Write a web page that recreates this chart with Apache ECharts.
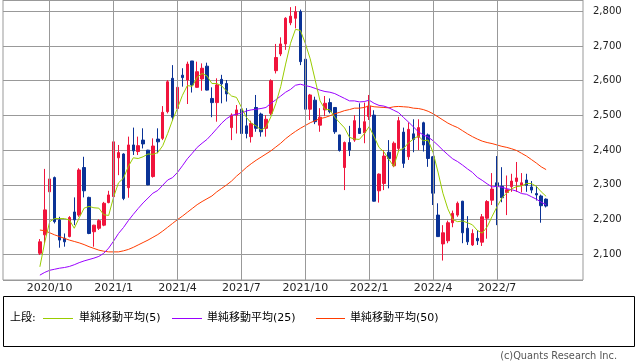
<!DOCTYPE html>
<html><head><meta charset="utf-8">
<script src="https://cdn.jsdelivr.net/npm/echarts/dist/echarts.min.js"></script>
<style>html,body{margin:0;padding:0;background:#fff}#c{width:638px;height:362px}</style>
</head><body><div id="c"></div>
<script>
// ---- data (weekly candles, first week starting 2020/09/21) ----
const firstWeek = '2020/09/21';
const padWeeks = 7;
const opens = [2103,2156,2280,2321,2199,2146,2151,2222,2213,2350,2264,2165,2175,2184,2249,2266,2378,2389,2292,2415,2396,2429,2400,2324,2432,2434,2511,2607,2520,2616,2602,2657,2581,2605,2642,2549,2537,2604,2592,2465,2501,2518,2470,2439,2523,2504,2463,2506,2629,2677,2706,2767,2780,2799,2662,2518,2544,2472,2516,2537,2523,2444,2350,2422,2429,2463,2450,2497,2501,2283,2304,2394,2355,2405,2452,2381,2447,2437,2479,2444,2381,2213,2130,2139,2191,2213,2253,2175,2127,2146,2135,2204,2256,2306,2296,2278,2295,2310,2299,2314,2294,2275,2268,2259];
const closes = [2136,2228,2317,2194,2141,2136,2206,2199,2343,2283,2160,2184,2197,2247,2271,2424,2393,2261,2415,2398,2413,2418,2300,2412,2424,2509,2597,2495,2581,2609,2648,2588,2626,2636,2573,2537,2588,2591,2562,2501,2516,2448,2448,2477,2463,2453,2489,2600,2667,2706,2780,2786,2799,2655,2518,2559,2482,2495,2535,2511,2453,2399,2422,2400,2485,2448,2482,2527,2253,2331,2383,2376,2420,2485,2362,2460,2431,2465,2415,2376,2276,2151,2162,2191,2218,2247,2162,2136,2160,2139,2208,2252,2288,2297,2263,2286,2311,2320,2306,2299,2285,2271,2240,2239];
const lows = [2098,2132,2271,2189,2119,2122,2149,2184,2208,2264,2158,2122,2170,2181,2247,2160,2328,2256,2263,2386,2386,2405,2299,2321,2391,2429,2506,2485,2495,2583,2533,2566,2580,2571,2572,2495,2482,2535,2540,2429,2448,2333,2434,2422,2453,2439,2439,2501,2621,2671,2689,2760,2751,2645,2511,2487,2475,2453,2498,2506,2447,2396,2285,2383,2424,2447,2420,2487,2252,2249,2285,2290,2351,2399,2349,2372,2394,2400,2396,2352,2242,2150,2082,2132,2178,2208,2132,2127,2124,2127,2124,2145,2242,2184,2250,2213,2280,2280,2278,2280,2276,2255,2191,2235];
const highs = [2144,2346,2326,2324,2208,2160,2210,2264,2348,2381,2266,2185,2201,2251,2283,2458,2415,2391,2439,2465,2439,2463,2401,2434,2463,2527,2602,2645,2727,2636,2655,2657,2655,2650,2652,2581,2607,2617,2602,2506,2530,2569,2521,2485,2559,2508,2501,2604,2706,2725,2783,2812,2815,2805,2662,2562,2554,2521,2556,2549,2524,2444,2425,2470,2501,2535,2537,2559,2515,2333,2400,2429,2425,2496,2465,2480,2489,2489,2482,2448,2383,2247,2184,2197,2226,2252,2254,2210,2172,2170,2216,2256,2334,2383,2351,2327,2332,2366,2334,2332,2311,2297,2272,2261];
const ma5 = [2064,2135,2194,2203,2203,2203,2199,2175,2205,2233,2238,2234,2233,2214,2212,2265,2306,2319,2353,2378,2376,2381,2389,2388,2393,2413,2448,2487,2521,2558,2586,2584,2610,2621,2614,2592,2592,2585,2570,2556,2552,2524,2495,2478,2470,2458,2466,2496,2534,2583,2648,2708,2748,2745,2708,2663,2603,2542,2518,2516,2495,2479,2464,2437,2432,2431,2447,2468,2439,2408,2395,2374,2353,2399,2405,2421,2432,2441,2427,2429,2393,2337,2276,2231,2200,2194,2196,2191,2185,2169,2161,2179,2209,2237,2262,2277,2289,2295,2297,2304,2304,2296,2280,2267];
const ma25 = [2040,2048,2054,2057,2060,2062,2065,2070,2076,2081,2085,2089,2094,2103,2118,2138,2160,2177,2197,2215,2232,2248,2262,2276,2284,2299,2314,2321,2336,2355,2375,2391,2408,2420,2431,2446,2462,2478,2491,2500,2504,2506,2513,2516,2518,2520,2523,2535,2545,2556,2567,2575,2587,2590,2586,2583,2578,2573,2569,2567,2563,2556,2549,2542,2542,2539,2540,2544,2535,2529,2527,2522,2515,2508,2494,2481,2467,2453,2444,2438,2427,2414,2400,2387,2375,2367,2357,2346,2336,2322,2313,2303,2294,2296,2293,2289,2286,2282,2275,2273,2266,2259,2250,2243];
const ma50 = [2170,2168,2162,2156,2151,2146,2141,2137,2133,2128,2122,2117,2112,2109,2107,2107,2107,2110,2114,2120,2127,2134,2141,2149,2157,2167,2178,2189,2200,2210,2221,2232,2243,2252,2260,2268,2280,2290,2300,2311,2325,2337,2350,2361,2371,2380,2389,2398,2409,2420,2433,2444,2454,2463,2471,2479,2485,2491,2494,2499,2505,2509,2514,2517,2521,2521,2523,2528,2525,2524,2523,2522,2525,2526,2525,2524,2521,2520,2517,2512,2505,2496,2487,2478,2471,2465,2456,2447,2439,2432,2426,2422,2419,2415,2411,2408,2404,2399,2391,2383,2373,2363,2352,2344];
const quarterWeeks = ['2020/10/05','2021/01/04','2021/04/05','2021/07/05','2021/10/04','2022/01/03','2022/04/04','2022/07/04'];
const quarterLabels = ['2020/10','2021/1','2021/4','2021/7','2021/10','2022/1','2022/4','2022/7'];
const yTickValues = [2100,2200,2300,2400,2500,2600,2700,2800];
const legendNames = ['単純移動平均(5)','単純移動平均(25)','単純移動平均(50)'];

// ---- category axis: one category per week, with empty weeks on both sides ----
function fmt(d){const m=d.getUTCMonth()+1, dd=d.getUTCDate();return d.getUTCFullYear()+'/'+(m<10?'0':'')+m+'/'+(dd<10?'0':'')+dd;}
const p = firstWeek.split('/').map(Number);
const base = Date.UTC(p[0], p[1]-1, p[2]);
const nCat = opens.length + 2*padWeeks;
const categories = [];
for (let k = 0; k < nCat; k++) categories.push(fmt(new Date(base + (k - padWeeks) * 7 * 86400000)));

const candleData = opens.map((o,i)=>[i+padWeeks, o, closes[i], lows[i], highs[i]]);
const lineData = arr => arr.map((v,i)=>[i+padWeeks, v]);

const RED='#f0143c', BLUE='#0a3296';
const C5='#99cc00', C25='#9a00ff', C50='#ff3c00';
const FONT='"DejaVu Sans","Noto Sans CJK JP",sans-serif';

const chart = echarts.init(document.getElementById('c'), null, {renderer:'canvas'});
const legendY = 318.5;
chart.setOption({
  animation:false,
  grid:{left:3,right:55,top:0,bottom:82,show:true,borderColor:'#999',borderWidth:1,backgroundColor:'transparent'},
  xAxis:{type:'category',data:categories,boundaryGap:true,
    axisLine:{show:false},axisTick:{show:false},splitLine:{show:false},
    axisLabel:{interval:(idx,val)=>quarterWeeks.indexOf(val)>=0,
      formatter:(val)=>{const j=quarterWeeks.indexOf(val);return j>=0?quarterLabels[j]:'';},
      fontSize:11,color:'#222',fontFamily:FONT,margin:3}},
  yAxis:{type:'value',position:'right',min:2026,max:2832.6,scale:true,splitNumber:8,
    axisLine:{show:false},axisTick:{show:false},
    splitLine:{show:true,lineStyle:{color:'#999',width:1}},
    axisLabel:{showMinLabel:false,showMaxLabel:false,margin:10,fontSize:10,color:'#222',fontFamily:FONT,
      formatter:v=>yTickValues.indexOf(Math.round(v))>=0?Math.round(v).toLocaleString('en-US'):''}},
  series:[
    {type:'line',z:1,data:[],silent:true,
      markLine:{silent:true,symbol:['none','none'],animation:false,label:{show:false},
        lineStyle:{color:'#999',type:'solid',width:1},
        emphasis:{disabled:true},
        data:quarterWeeks.map(d=>({xAxis:d}))}},
    {type:'candlestick',z:3,data:candleData,encode:{x:0,y:[1,2,3,4]},barWidth:3,silent:true,
      itemStyle:{color:RED,color0:BLUE,borderColor:RED,borderColor0:BLUE,borderWidth:1}},
    {type:'line',z:4,data:lineData(ma50),symbol:'none',silent:true,lineStyle:{color:C50,width:1}},
    {type:'line',z:4,data:lineData(ma25),symbol:'none',silent:true,lineStyle:{color:C25,width:1}},
    {type:'line',z:4,data:lineData(ma5),symbol:'none',silent:true,lineStyle:{color:C5,width:1}}
  ],
  graphic:[
    {type:'rect',shape:{x:3.5,y:296.5,width:631,height:50},style:{fill:'none',stroke:'#000',lineWidth:1},silent:true},
    {type:'text',x:10,y:legendY,style:{text:'上段:',fill:'#000',font:'11px '+FONT,textVerticalAlign:'middle'},silent:true},
    {type:'line',shape:{x1:43,y1:legendY,x2:73,y2:legendY},style:{stroke:C5,lineWidth:1},silent:true},
    {type:'text',x:79,y:legendY,style:{text:legendNames[0],fill:'#000',font:'11px '+FONT,textVerticalAlign:'middle'},silent:true},
    {type:'line',shape:{x1:172,y1:legendY,x2:202,y2:legendY},style:{stroke:C25,lineWidth:1},silent:true},
    {type:'text',x:207,y:legendY,style:{text:legendNames[1],fill:'#000',font:'11px '+FONT,textVerticalAlign:'middle'},silent:true},
    {type:'line',shape:{x1:316,y1:legendY,x2:345,y2:legendY},style:{stroke:C50,lineWidth:1},silent:true},
    {type:'text',x:350,y:legendY,style:{text:legendNames[2],fill:'#000',font:'11px '+FONT,textVerticalAlign:'middle'},silent:true},
    {type:'text',x:617,y:356,style:{text:'(c)Quants Research Inc.',fill:'#555',font:'9.8px '+FONT,textAlign:'right',textVerticalAlign:'middle'},silent:true}
  ]
});
</script></body></html>
